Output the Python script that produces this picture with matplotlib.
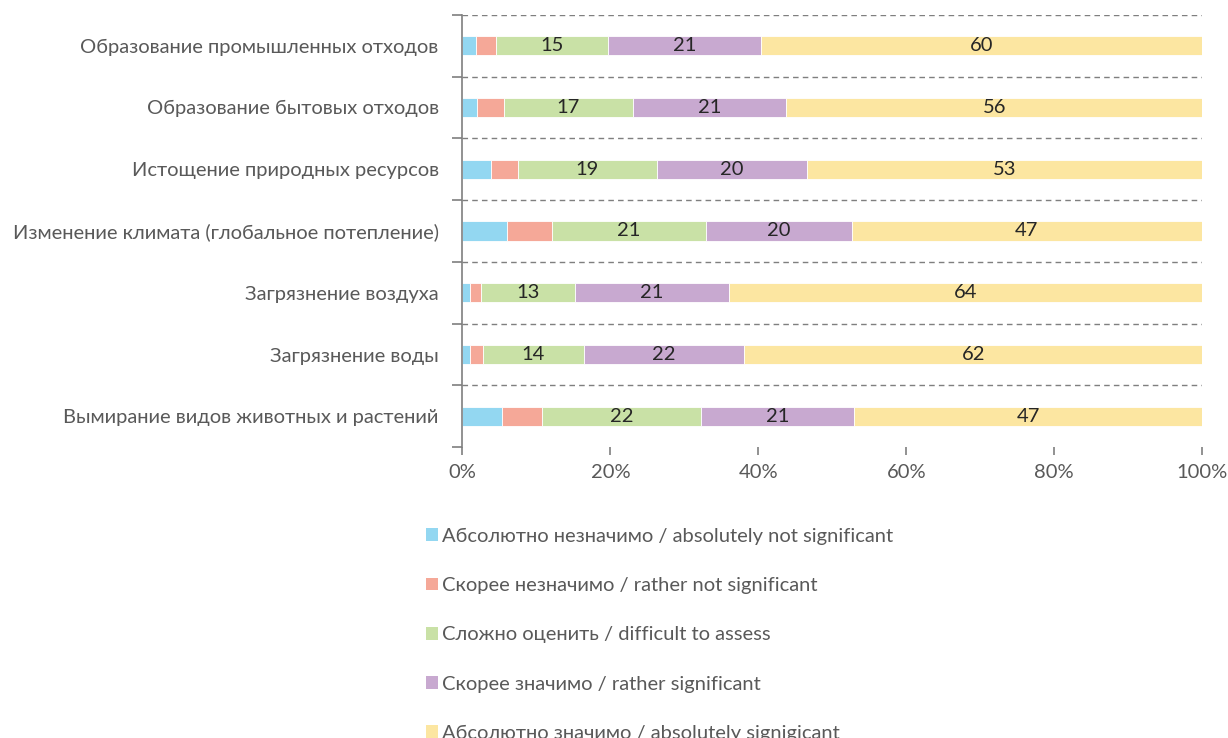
import matplotlib
matplotlib.use("Agg")
import matplotlib.pyplot as plt
from matplotlib.patches import Patch
from matplotlib.ticker import FixedLocator, PercentFormatter
import numpy as np

plt.rcParams['font.family'] = ['Lato', 'DejaVu Sans']

# categories, top to bottom
categories = [
    "Образование промышленных отходов",
    "Образование бытовых отходов",
    "Истощение природных ресурсов",
    "Изменение климата (глобальное потепление)",
    "Загрязнение воздуха",
    "Загрязнение воды",
    "Вымирание видов животных и растений",
]

# shares in %, one list per answer
abs_not = [1.9, 2.0, 3.9, 6.1, 1.0, 1.0, 5.4]
rather_not = [2.6, 3.6, 3.6, 6.0, 1.5, 1.8, 5.3]
difficult = [15.2, 17.4, 18.8, 20.9, 12.7, 13.6, 21.6]
rather_sig = [20.6, 20.8, 20.3, 19.6, 20.9, 21.7, 20.6]
abs_sig = [59.7, 56.2, 53.4, 47.4, 63.9, 61.9, 47.1]

series_names = [
    "Абсолютно незначимо / absolutely not significant",
    "Скорее незначимо / rather not significant",
    "Сложно оценить / difficult to assess",
    "Скорее значимо / rather significant",
    "Абсолютно значимо / absolutely signigicant",
]
colors = ["#93D7F1", "#F5A898", "#C9E1A6", "#C8A9D0", "#FCE6A1"]
labelled = [False, False, True, True, True]

series = [abs_not, rather_not, difficult, rather_sig, abs_sig]

fs = 14.5

fig = plt.figure(figsize=(12.28, 7.38), dpi=100)
ax = fig.add_axes([0.3765, 0.394, 0.6025, 0.586])

y = np.arange(len(categories))
left = np.zeros(len(categories))
for vals, col, lab in zip(series, colors, labelled):
    vals = np.array(vals)
    bars = ax.barh(y, vals, left=left, height=0.31, color=col, edgecolor='white', linewidth=0.6)
    if lab:
        ax.bar_label(bars, labels=[f"{v:.0f}" for v in vals], label_type='center',
                     fontsize=fs, color='#262626')
    left += vals

ax.set_xlim(0, 100)
ax.set_ylim(len(categories) - 0.5, -0.5)

# dashed separators between categories
for b in np.arange(-0.5, len(categories) - 1, 1.0):
    ax.axhline(b, color='#7f7f7f', linestyle=(0, (4, 3)), linewidth=1.0, zorder=0)

ax.set_yticks(y)
ax.set_yticklabels(categories)
ax.yaxis.set_minor_locator(FixedLocator(np.arange(-0.5, len(categories), 1.0)))
ax.tick_params(axis='y', which='major', length=0, pad=17, labelsize=fs, labelcolor='#595959')
ax.tick_params(axis='y', which='minor', length=7, width=1.2, color='#7f7f7f', direction='out')

ax.set_xticks(np.arange(0, 101, 20))
ax.xaxis.set_major_formatter(PercentFormatter(decimals=0))
ax.tick_params(axis='x', length=6, width=1.2, color='#7f7f7f', labelsize=fs,
               labelcolor='#595959', pad=6)

for s in ['top', 'right', 'bottom']:
    ax.spines[s].set_visible(False)
ax.spines['left'].set_color('#7f7f7f')
ax.spines['left'].set_linewidth(1.2)

handles = [Patch(facecolor=c, edgecolor='none') for c in colors]
fig.legend(handles, series_names, loc='upper left', bbox_to_anchor=(0.339, 0.2985),
           frameon=False, fontsize=fs, labelcolor='#595959', labelspacing=1.6,
           handlelength=0.6, handleheight=0.6, handletextpad=0.2, borderpad=0)

fig.savefig("out.png", dpi=100)
